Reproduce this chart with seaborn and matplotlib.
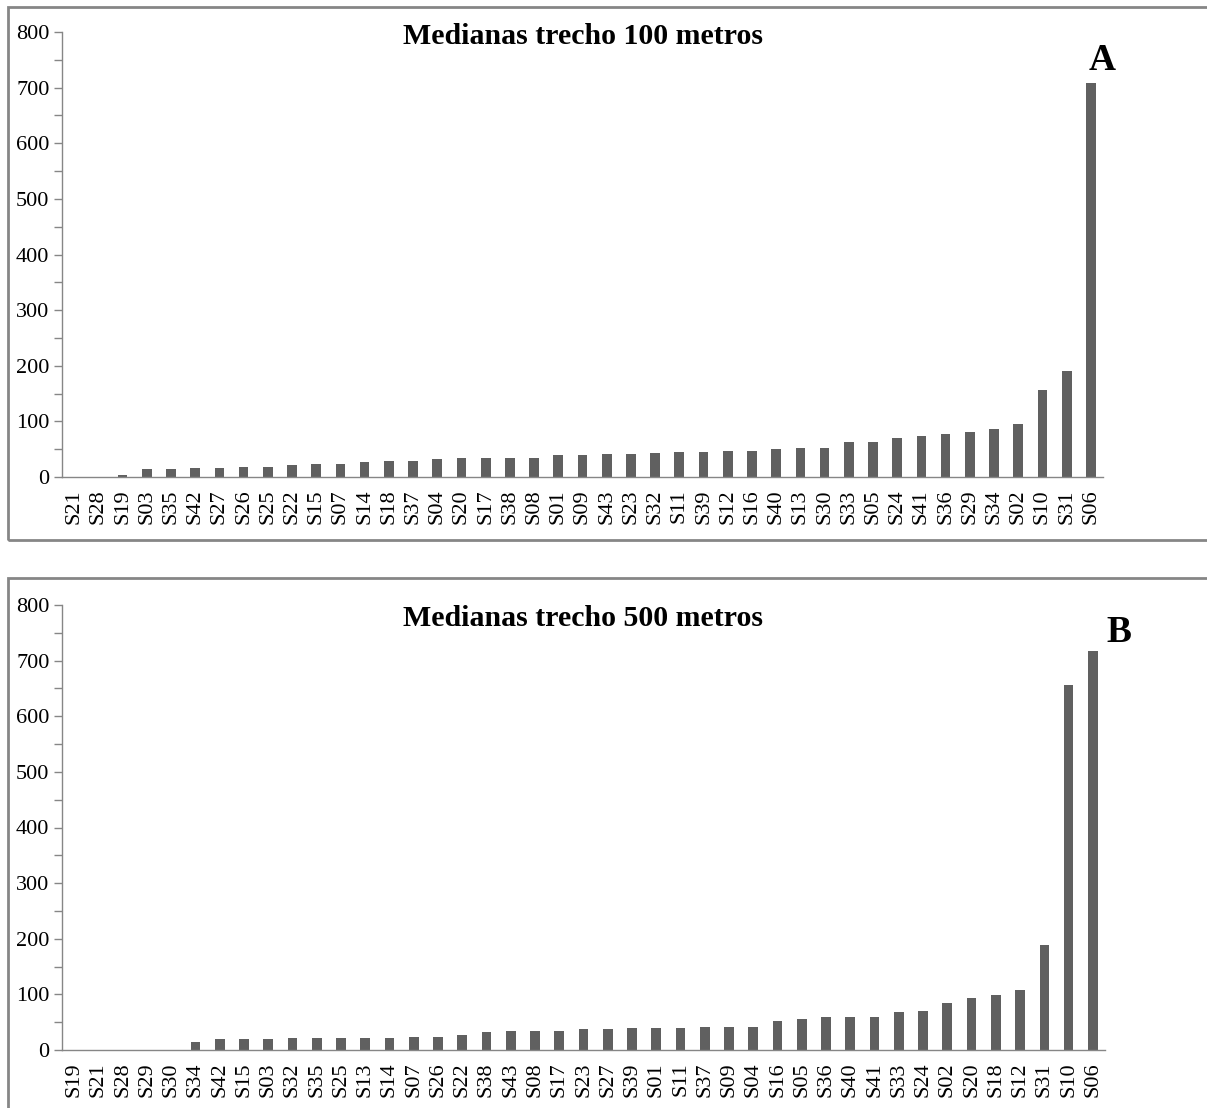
import matplotlib
matplotlib.use("Agg")
import matplotlib.pyplot as plt
from matplotlib.patches import Rectangle
from matplotlib.ticker import MultipleLocator
import seaborn as sns
import pandas as pd

sns.set_style("white")
plt.rcParams['font.family'] = ['Liberation Serif', 'DejaVu Serif']
plt.rcParams['text.color'] = 'black'
plt.rcParams['xtick.labelcolor'] = 'black'
plt.rcParams['ytick.labelcolor'] = 'black'

# ---- Data: panel A (100 m) ----
cats_a = ["S21", "S28", "S19", "S03", "S35", "S42", "S27", "S26", "S25", "S22",
          "S15", "S07", "S14", "S18", "S37", "S04", "S20", "S17", "S38", "S08",
          "S01", "S09", "S43", "S23", "S32", "S11", "S39", "S12", "S16", "S40",
          "S13", "S30", "S33", "S05", "S24", "S41", "S36", "S29", "S34", "S02",
          "S10", "S31", "S06"]
vals_a = [0, 0, 4, 14, 14, 16, 16, 18, 18, 22,
          24, 24, 27.5, 29, 29, 32, 33.5, 33.5, 33.5, 35,
          39.5, 39.5, 42, 42, 43.5, 45.5, 45.5, 47, 47, 50,
          51.5, 53, 63.5, 63.5, 71, 73, 77, 81, 87, 95,
          157, 190, 708]

# ---- Data: panel B (500 m) ----
cats_b = ["S19", "S21", "S28", "S29", "S30", "S34", "S42", "S15", "S03", "S32",
          "S35", "S25", "S13", "S14", "S07", "S26", "S22", "S38", "S43", "S08",
          "S17", "S23", "S27", "S39", "S01", "S11", "S37", "S09", "S04", "S16",
          "S05", "S36", "S40", "S41", "S33", "S24", "S02", "S20", "S18", "S12",
          "S31", "S10", "S06"]
vals_b = [0, 0, 0, 0, 0, 14, 20, 20, 20, 22,
          22, 22, 22, 22, 24, 24, 27.5, 32, 33.5, 35,
          35, 38, 38, 39.5, 39.5, 39.5, 42, 42, 42, 51.5,
          55.5, 59, 59, 59, 69, 71, 85, 93, 99, 108,
          189, 657, 717]

titles = ["Medianas trecho 100 metros", "Medianas trecho 500 metros"]
letters = ["A", "B"]

W, H = 1207, 1108
fig = plt.figure(figsize=(W / 100, H / 100), dpi=100)

spine_col = "#868686"
bar_col = "#606060"

def px_axes(left, top, right, bottom):
    return fig.add_axes([left / W, 1 - bottom / H, (right - left) / W, (bottom - top) / H])

panels = [
    (cats_a, vals_a, (62, 32, 1103, 477), (8, 7, 1220, 540), (583, 37), (1102, 60)),
    (cats_b, vals_b, (62, 605, 1105, 1050), (8, 578, 1220, 1120), (583, 618), (1119, 633)),
]

for i, (cats, vals, box, frame, tpos, lpos) in enumerate(panels):
    # outer frame
    fx0, fy0, fx1, fy1 = frame
    fig.add_artist(Rectangle((fx0 / W, 1 - fy1 / H), (fx1 - fx0) / W, (fy1 - fy0) / H,
                             transform=fig.transFigure, fill=False,
                             edgecolor=spine_col, linewidth=2))
    ax = px_axes(*box)
    df = pd.DataFrame({"cat": cats, "val": vals})
    sns.barplot(data=df, x="cat", y="val", order=cats, color=bar_col,
                width=0.4, saturation=1, ax=ax, errorbar=None)
    for p in ax.patches:
        p.set_edgecolor("none")
    ax.set_xlim(-0.5, len(cats) - 0.5)
    ax.set_ylim(0, 800)
    ax.yaxis.set_major_locator(MultipleLocator(100))
    ax.yaxis.set_minor_locator(MultipleLocator(50))
    ax.set_xlabel("")
    ax.set_ylabel("")
    for s in ["top", "right"]:
        ax.spines[s].set_visible(False)
    for s in ["left", "bottom"]:
        ax.spines[s].set_color(spine_col)
        ax.spines[s].set_linewidth(1.0)
    # x ticks between categories
    ax.set_xticks(range(len(cats)))
    ax.set_xticklabels(cats, rotation=90, fontsize=16, color="black")
    ax.tick_params(axis="x", which="major", length=0, pad=9)
    ax.set_xticks([k - 0.5 for k in range(len(cats) + 1)], minor=True)
    ax.tick_params(axis="x", which="minor", length=6, color=spine_col, width=1, direction="out")
    ax.tick_params(axis="y", which="major", length=6, color=spine_col, width=1,
                   labelsize=16, labelcolor="black", pad=3, direction="out", left=True)
    ax.tick_params(axis="y", which="minor", length=6, color=spine_col, width=1,
                   direction="out", left=True)
    ax.grid(False)
    fig.text(tpos[0] / W, 1 - tpos[1] / H, titles[i], ha="center", va="center",
             fontsize=21.5, fontweight="bold", color="black")
    fig.text(lpos[0] / W, 1 - lpos[1] / H, letters[i], ha="center", va="center",
             fontsize=27, fontweight="bold", color="black")

fig.savefig("out.png", dpi=100, facecolor="white")
